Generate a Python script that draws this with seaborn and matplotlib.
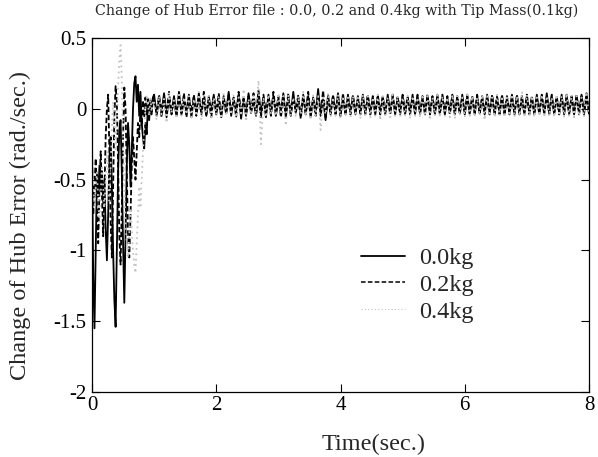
import numpy as np
import pandas as pd
import matplotlib
matplotlib.use("Agg")
import matplotlib.pyplot as plt
import seaborn as sns

# ---------------- data ----------------
masses = ["0.0kg", "0.2kg", "0.4kg"]
x_ticks = [0, 2, 4, 6, 8]
y_ticks = [0.5, 0, -0.5, -1, -1.5, -2]
y_tick_labels = ["0.5", "0", "-0.5", "-1", "-1.5", "-2"]

# transient part: t = 0.00 ... 0.98 (step 0.02)
t_transient = np.round(np.arange(0.0, 0.99, 0.02), 2)
# steady part: t = 1.00 ... 8.00 (step 0.04)
t_steady = np.round(np.arange(1.0, 8.001, 0.04), 2)

m00_transient = [
    -0.35, -1.20, -1.55, -1.00, -0.45, -0.62, -0.40, -0.58, -0.44, -0.66,
    -0.50, -0.85, -1.07, -0.75, -0.35, -0.20, -0.55, -1.00, -1.35, -1.54,
    -1.00, -0.45, -0.15, -0.08, -0.45, -0.95, -1.37, -0.90, -0.40, -0.10,
    -0.25, -0.55, -0.30, 0.00, 0.18, 0.23, 0.05, 0.17, -0.05, 0.12,
    -0.10, -0.20, -0.28, -0.10, -0.18, 0.02, -0.08, 0.06, -0.04, 0.08,
]
m02_transient = [
    -0.30, -0.75, -0.55, -0.35, -0.70, -0.95, -0.55, -0.30, -0.60, -0.90,
    -0.60, -0.20, 0.00, 0.10, -0.30, -0.80, -1.05, -0.55, -0.05, 0.16,
    0.05, -0.40, -0.90, -1.10, -0.70, -0.20, 0.15, 0.00, -0.45, -0.90,
    -1.05, -0.75, -0.40, -0.20, -0.35, -0.50, -0.30, -0.10, -0.20, 0.00,
    -0.12, 0.06, -0.06, 0.08, -0.04, 0.07, -0.03, 0.06, -0.02, 0.07,
]
m04_transient = [
    -0.30, -0.50, -0.70, -0.55, -0.45, -0.65, -0.80, -0.60, -0.40, -0.55,
    -0.70, -0.50, -0.30, -0.45, -0.65, -0.40, -0.15, 0.05, -0.10, -0.30,
    -0.10, 0.15, 0.35, 0.45, 0.20, -0.20, -0.55, -0.80, -0.95, -1.05,
    -0.90, -0.70, -0.85, -1.00, -1.10, -1.16, -0.95, -0.75, -0.55, -0.70,
    -0.50, -0.30, -0.15, 0.00, 0.10, 0.05, -0.05, 0.08, -0.02, 0.06,
]

m00_steady = [
    0.10, -0.05, 0.08, -0.02, 0.11, -0.06, 0.07, -0.03,
    0.09, -0.05, 0.12, -0.04, 0.06, -0.02, 0.10, -0.06,
    0.08, -0.03, 0.11, -0.04, 0.07, -0.05, 0.09, -0.02,
    0.10, -0.04, 0.06, -0.06, 0.09, -0.03, 0.12, -0.05,
    0.07, -0.02, 0.10, -0.07, 0.08, -0.04, 0.11, -0.03,
    0.06, -0.05, 0.13, -0.04, 0.08, -0.06, 0.10, -0.03,
    0.09, -0.05, 0.07, -0.02, 0.11, -0.06, 0.08, -0.04,
    0.12, -0.03, 0.07, -0.05, 0.10, -0.04, 0.09, -0.06,
    0.08, -0.03, 0.14, -0.05, 0.07, -0.08, 0.10, -0.04,
    0.09, -0.03, 0.11, -0.05, 0.08, -0.04, 0.10, -0.03,
    0.09, -0.04, 0.08, -0.03, 0.10, -0.04, 0.09, -0.03,
    0.08, -0.04, 0.09, -0.03, 0.08, -0.04, 0.10, -0.03,
    0.09, -0.04, 0.08, -0.03, 0.09, -0.04, 0.08, -0.03,
    0.10, -0.04, 0.09, -0.03, 0.08, -0.04, 0.09, -0.03,
    0.08, -0.04, 0.10, -0.03, 0.09, -0.04, 0.08, -0.03,
    0.09, -0.04, 0.08, -0.03, 0.10, -0.04, 0.09, -0.03,
    0.08, -0.04, 0.09, -0.03, 0.08, -0.04, 0.10, -0.03,
    0.09, -0.04, 0.08, -0.03, 0.09, -0.04, 0.08, -0.03,
    0.10, -0.04, 0.09, -0.03, 0.08, -0.04, 0.09, -0.03,
    0.08, -0.04, 0.10, -0.03, 0.09, -0.04, 0.11, -0.03,
    0.09, -0.04, 0.08, -0.03, 0.10, -0.04, 0.09, -0.03,
    0.08, -0.04, 0.09, -0.03, 0.10, -0.04, 0.09, -0.03,
]
m02_steady = [
    0.07, -0.03, 0.10, -0.06, 0.08, -0.02, 0.12, -0.04,
    0.06, -0.05, 0.09, -0.03, 0.11, -0.06, 0.07, -0.02,
    0.10, -0.05, 0.08, -0.03, 0.12, -0.04, 0.06, -0.06,
    0.09, -0.02, 0.11, -0.05, 0.07, -0.04, 0.10, -0.03,
    0.08, -0.06, 0.12, -0.03, 0.07, -0.05, 0.09, -0.02,
    0.11, -0.04, 0.07, -0.06, 0.10, -0.03, 0.08, -0.05,
    0.12, -0.03, 0.09, -0.06, 0.07, -0.04, 0.11, -0.05,
    0.08, -0.02, 0.10, -0.07, 0.09, -0.03, 0.12, -0.04,
    0.07, -0.05, 0.10, -0.03, 0.13, -0.06, 0.08, -0.03,
    0.10, -0.04, 0.09, -0.05, 0.11, -0.03, 0.08, -0.04,
    0.10, -0.03, 0.09, -0.04, 0.08, -0.03, 0.10, -0.04,
    0.09, -0.03, 0.10, -0.04, 0.09, -0.03, 0.08, -0.04,
    0.10, -0.03, 0.09, -0.04, 0.10, -0.03, 0.09, -0.04,
    0.08, -0.03, 0.10, -0.04, 0.09, -0.03, 0.10, -0.04,
    0.09, -0.03, 0.08, -0.04, 0.10, -0.03, 0.09, -0.04,
    0.10, -0.03, 0.09, -0.04, 0.08, -0.03, 0.10, -0.04,
    0.09, -0.03, 0.10, -0.04, 0.09, -0.03, 0.08, -0.04,
    0.10, -0.03, 0.09, -0.04, 0.10, -0.03, 0.09, -0.04,
    0.08, -0.03, 0.10, -0.04, 0.09, -0.03, 0.10, -0.04,
    0.09, -0.03, 0.08, -0.04, 0.10, -0.03, 0.09, -0.04,
    0.10, -0.03, 0.09, -0.04, 0.08, -0.03, 0.10, -0.04,
    0.09, -0.03, 0.10, -0.04, 0.09, -0.03, 0.11, -0.04,
]
m04_steady = [
    0.05, -0.08, 0.09, -0.04, 0.07, -0.10, 0.11, -0.03,
    0.06, -0.07, 0.10, -0.05, 0.08, -0.04, 0.09, -0.06,
    0.07, -0.05, 0.12, -0.08, 0.06, -0.03, 0.10, -0.06,
    0.08, -0.04, 0.09, -0.07, 0.11, -0.05, 0.07, -0.04,
    0.10, -0.06, 0.08, -0.05, 0.14, -0.09, 0.07, -0.04,
    0.09, -0.05, 0.20, -0.25, 0.08, -0.06, 0.10, -0.04,
    0.07, -0.05, 0.11, -0.04, 0.09, -0.12, 0.10, -0.05,
    0.08, -0.06, 0.09, -0.04, 0.12, -0.05, 0.07, -0.08,
    0.10, -0.05, 0.09, -0.15, 0.08, -0.04, 0.11, -0.06,
    0.08, -0.05, 0.10, -0.07, 0.09, -0.04, 0.08, -0.06,
    0.09, -0.05, 0.08, -0.07, 0.10, -0.05, 0.09, -0.06,
    0.08, -0.05, 0.10, -0.08, 0.09, -0.05, 0.08, -0.06,
    0.10, -0.05, 0.09, -0.06, 0.08, -0.05, 0.10, -0.07,
    0.09, -0.05, 0.08, -0.06, 0.10, -0.05, 0.09, -0.08,
    0.08, -0.05, 0.10, -0.06, 0.09, -0.05, 0.08, -0.06,
    0.10, -0.07, 0.09, -0.05, 0.08, -0.06, 0.10, -0.05,
    0.09, -0.06, 0.08, -0.05, 0.10, -0.08, 0.09, -0.05,
    0.08, -0.06, 0.10, -0.05, 0.09, -0.06, 0.08, -0.05,
    0.10, -0.06, 0.09, -0.05, 0.12, -0.06, 0.10, -0.05,
    0.09, -0.06, 0.08, -0.05, 0.10, -0.06, 0.09, -0.05,
    0.08, -0.06, 0.10, -0.05, 0.09, -0.06, 0.11, -0.05,
    0.10, -0.06, 0.09, -0.05, 0.08, -0.06, 0.12, -0.05,
]

# ---------------- long-form table ----------------
time_all = np.concatenate([t_transient, t_steady])
series = {
    "0.0kg": m00_transient + m00_steady,
    "0.2kg": m02_transient + m02_steady,
    "0.4kg": m04_transient + m04_steady,
}
df = pd.concat(
    [pd.DataFrame({"time": time_all, "value": vals, "mass": name})
     for name, vals in series.items()],
    ignore_index=True,
)

# ---------------- style ----------------
sns.set_style("ticks")
plt.rcParams["font.family"] = ["Liberation Serif", "DejaVu Serif"]
plt.rcParams["axes.unicode_minus"] = False

fig = plt.figure(figsize=(5.98, 4.57), dpi=100)
ax = fig.add_axes([92 / 598, 1 - 392 / 457, 497 / 598, 354 / 457])

palette = {"0.0kg": "black", "0.2kg": "black", "0.4kg": "#c4c4c4"}
dashes = {"0.0kg": "", "0.2kg": (3, 1.5), "0.4kg": (1, 2)}
sns.lineplot(
    data=df, x="time", y="value", hue="mass", style="mass",
    palette=palette, dashes=dashes, hue_order=masses, style_order=masses,
    estimator=None, sort=False, linewidth=1.3, ax=ax, legend=True,
)
for line in ax.get_lines():
    lab = line.get_label()
    if lab == "0.4kg":
        line.set_linewidth(0.8)
    elif lab == "0.2kg":
        line.set_linewidth(1.1)

ax.set_xlim(0, 8)
ax.set_ylim(-2, 0.5)
ax.set_xticks(x_ticks)
ax.set_xticklabels([str(v) for v in x_ticks])
ax.set_yticks(y_ticks)
ax.set_yticklabels(y_tick_labels)
ax.tick_params(direction="in", length=6, width=0.8, labelsize=15,
               top=True, right=True, pad=4, colors="black")
ax.tick_params(axis="x", pad=3)
for s in ax.spines.values():
    s.set_linewidth(0.9)
    s.set_color("black")

ax.set_xlabel("")
ax.set_ylabel("")
fig.text(374 / 598, 1 - 444 / 457, "Time(sec.)", fontsize=17.5,
         ha="center", va="center")
fig.text(20 / 598, 1 - 226 / 457,
         "Change of Hub Error (rad./sec.)", fontsize=17.5, rotation=90,
         ha="center", va="center")
fig.text(95 / 598, 1 - 11 / 457,
         "Change of Hub Error file : 0.0, 0.2 and 0.4kg with Tip Mass(0.1kg)",
         fontsize=10.3, family="DejaVu Serif", ha="left", va="center")

handles, labels = ax.get_legend_handles_labels()
leg = ax.legend(handles, labels, loc="upper left",
                bbox_to_anchor=((361 - 92) / 497, (392 - 247) / 354),
                frameon=False, fontsize=17.5, handlelength=1.8,
                handletextpad=0.6, labelspacing=0.2, borderpad=0,
                borderaxespad=0)

fig.savefig("out.png", dpi=100)
